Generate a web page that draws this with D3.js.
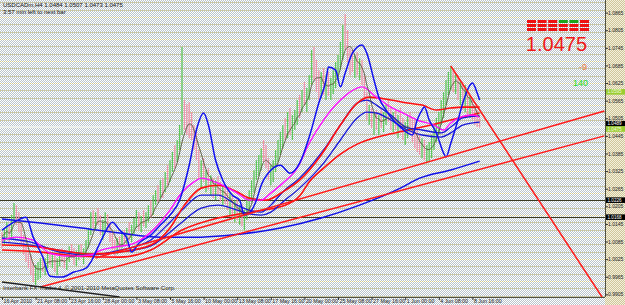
<!DOCTYPE html>
<html>
<head>
<meta charset="utf-8">
<script src="https://cdn.jsdelivr.net/npm/d3@7"></script>
<style>
body { margin: 0; background: #fff; }
svg { display: block; font-family: "Liberation Sans", Arial, sans-serif; }
</style>
</head>
<body>
<div id="chart"></div>
<script>
// H4 bars, prices in pips above 1.0000 (open = previous close)
const firstOpen = 110;
const highs = [
  117,131,151,141,175,216,209,185,151,107, 73,55,39,15,5,15,28,39,28,49,
  55,49,39,28,55,62,49,39,69,76, 62,55,73,76,62,90,131,185,192,185,
  199,175,158,185,178,151,117,90,97,103, 117,124,131,151,141,165,192,185,172,192,
  185,209,226,243,260,277,294,301,322,345, 362,390,414,431,482,748,567,553,560,526,
  482,458,397,362,369,328,335,311,301,294, 308,288,277,281,260,253,243,226,233,209,
  213,192,233,260,294,328,362,380,403,431, 414,369,345,362,397,431,458,482,506,526,
  540,516,533,567,584,601,629,608,652,738, 748,704,669,663,676,652,663,642,669,697,
  721,765,823,860,806,744,738,721,731,710, 704,652,594,550,540,526,533,516,540,526,
  550,567,540,526,533,516,540,506,492,516, 526,506,499,465,448,437,431,414,424,448,
  482,506,526,567,594,635,663,683,669,659, 652,635,629,618,601,584,574,550,533,507
];
const lows = [
  62,73,90,83,97,151,141,117,73,39, 15,-6,-30,-53,-63,-46,-40,-19,-30,-6,
  5,-6,-19,-30,1,15,-6,-12,15,28, 5,1,21,28,8,35,62,107,131,124,
  141,107,90,124,117,83,55,35,42,49, 62,69,76,90,83,110,131,124,117,137,
  131,151,165,175,209,219,233,233,253,277, 288,322,335,356,397,448,465,448,437,431,
  397,362,301,267,288,253,260,240,233,226, 243,219,209,213,192,175,165,151,158,141,
  137,124,158,192,219,253,294,308,328,356, 335,294,277,288,322,356,380,403,431,437,
  448,431,465,482,506,526,550,526,567,618, 635,594,567,574,584,567,581,567,588,608,
  635,669,704,738,697,652,663,642,652,635, 618,567,499,482,472,448,465,448,472,458,
  482,492,465,458,465,437,458,431,414,437, 448,424,403,390,380,369,362,352,356,369,
  397,424,448,482,506,550,584,601,594,588, 567,550,533,526,516,506,499,482,475,473
];
const closes = [
  103,117,137,97,165,199,158,131,90,55, 28,15,-12,-40,-12,5,15,-6,21,35,
  15,28,-6,15,42,28,8,28,55,49, 21,35,55,42,49,76,117,165,151,175,
  158,124,137,172,131,97,69,55,83,62, 103,90,117,103,131,151,172,137,158,144,
  172,192,178,226,240,233,281,260,301,288, 342,369,356,410,458,526,506,472,465,448,
  431,380,322,345,301,308,274,288,247,277, 260,233,260,226,209,233,185,199,172,192,
  151,178,219,240,274,308,345,362,390,369, 345,311,322,345,380,410,437,465,448,499,
  472,506,519,547,533,584,567,594,635,704, 663,618,594,642,608,629,601,622,649,669,
  697,738,806,772,721,710,687,704,669,690, 635,584,516,533,492,506,482,499,485,516,
  526,506,482,506,472,492,478,448,472,492, 465,437,424,410,397,414,380,397,403,431,
  465,485,506,550,581,618,642,652,618,635, 588,608,567,584,540,567,516,506,484,475
];

// indicator lines: [bar, pips]
const blueFast = [[0,124],[5,151],[10,168],[13,100],[17,32],[20,-33],[25,-36],[30,-19],[35,-6],[37,15],
  [40,66],[42,100],[46,151],[49,124],[52,97],[54,49],[57,79],[62,107],[66,141],[70,175],[74,226],
  [78,345],[81,465],[84,523],[86,482],[89,362],[92,294],[96,243],[99,226],[101,175],[103,182],
  [106,226],[108,277],[112,328],[116,345],[120,318],[124,352],[128,441],[132,557],[135,635],[136,680],
  [139,669],[141,612],[143,659],[146,727],[150,755],[152,727],[155,635],[157,577],[160,533],[163,499],
  [166,475],[169,455],[171,448],[173,499],[175,533],[176,543],[178,499],[181,455],[184,386],[185,373],
  [187,420],[190,499],[192,557],[195,618],[196,625],[198,591],[199,567]];
const magentaMa = [[0,90],[6,100],[13,90],[20,45],[28,35],[37,39],[41,55],[47,66],[55,79],[62,117],
  [66,151],[70,192],[75,253],[80,288],[83,301],[90,284],[98,250],[103,226],[108,226],[112,250],
  [117,284],[123,335],[128,420],[134,499],[141,567],[148,608],[150,612],[156,577],[162,543],[167,523],
  [173,499],[180,482],[184,465],[187,489],[191,509],[196,516],[199,509]];
const blueMid = [[0,97],[12,83],[24,49],[37,39],[49,55],[62,90],[70,151],[75,192],[83,243],[90,243],
  [98,209],[103,192],[108,185],[112,209],[117,254],[124,301],[134,397],[141,482],[148,557],[152,567],
  [156,550],[162,516],[169,472],[175,465],[183,455],[187,475],[192,506],[199,513]];
const blueSlow = [[0,83],[12,73],[24,55],[37,42],[49,49],[62,70],[70,117],[75,151],[83,199],[90,209],
  [98,192],[103,179],[108,175],[112,185],[117,220],[124,267],[134,352],[141,431],[148,506],[152,526],
  [156,523],[162,499],[169,465],[175,448],[183,441],[187,455],[192,482],[199,492]];
const redMid = [[0,73],[12,69],[24,55],[37,42],[49,49],[62,73],[70,131],[76,209],[83,267],[90,277],
  [98,254],[103,233],[110,226],[117,254],[124,294],[133,380],[141,482],[148,557],[153,577],[162,567],
  [169,557],[175,550],[181,533],[187,540],[192,543],[199,543]];
const redSlow = [[0,56],[16,49],[33,35],[49,32],[62,56],[75,124],[90,165],[103,185],[117,206],[124,240],
  [128,288],[134,335],[141,383],[148,417],[155,438],[160,448],[175,475],[187,499],[199,523]];
const blueLong = [[0,162],[16,148],[33,131],[49,114],[66,100],[83,100],[99,110],[116,131],[133,165],
  [149,209],[166,267],[174,301],[187,329],[199,359]];

// trend lines [bar, pips]
const redTrends = [[[16,-70],[251,445]], [[39,29],[251,530]], [[187,683],[250,-104]]];
const blackTrend = [[0,-53],[49,-104]];
const hLevels = [1.0226, 1.0168];

const yTicks = [1.0865,1.0805,1.0745,1.0685,1.0625,1.0565,1.0505,1.0445,1.0385,1.0325,1.0265,1.0205,1.0145,1.0085,1.0025,0.9965,0.9905];
const xLabels = ['16 Apr 2010','21 Apr 08:00','23 Apr 16:00','28 Apr 00:00','3 May 08:00','5 May 16:00','10 May 00:00',
  '13 May 08:00','17 May 16:00','20 May 00:00','25 May 08:00','27 May 16:00','1 Jun 00:00','4 Jun 08:00','8 Jun 16:00'];
const xLabelBars = [0,14,28,42,56,70,84,98,112,126,140,154,168,182,196];
const tags = [
  {v: 1.0595, bg: '#9acd32', fg: '#f4ffe0'},
  {v: 1.0489, bg: '#000000', fg: '#ffffff'},
  {v: 1.0475, bg: '#9acd32', fg: '#f4ffe0'},
  {v: 1.0226, bg: '#000000', fg: '#ffffff'},
  {v: 1.0168, bg: '#000000', fg: '#ffffff'}
];
const blockRows = [['r','r','r','g','g','r'], ['r','r','r','r','r','r'], ['r','r','r','r','r','r']];
const lastPrice = '1.0475';

let w = 625, h = 305;
let plotW = 605, plotH = 297;
let px = v => 1 + v / 10000;

let svg = d3.select('#chart').append('svg').attr('width', w).attr('height', h);

let defs = svg.append('defs');
let pat = defs.append('pattern').attr('id', 'dither').attr('width', 2).attr('height', 2).attr('patternUnits', 'userSpaceOnUse');
pat.append('rect').attr('width', 2).attr('height', 2).attr('fill', '#ffffff');
pat.append('rect').attr('x', 1).attr('width', 1).attr('height', 1).attr('fill', '#b9c4cb');
pat.append('rect').attr('y', 1).attr('width', 1).attr('height', 1).attr('fill', '#b9c4cb');
let pat2 = defs.append('pattern').attr('id', 'dither2').attr('width', 2).attr('height', 2).attr('patternUnits', 'userSpaceOnUse');
pat2.append('rect').attr('width', 2).attr('height', 2).attr('fill', '#f4f0dc');
pat2.append('rect').attr('x', 1).attr('width', 1).attr('height', 1).attr('fill', '#cfc69a');
pat2.append('rect').attr('y', 1).attr('width', 1).attr('height', 1).attr('fill', '#cfc69a');
defs.append('clipPath').attr('id', 'plot').append('rect').attr('width', plotW).attr('height', plotH);

svg.append('rect').attr('width', w).attr('height', h).attr('fill', 'url(#dither)');
svg.append('rect').attr('x', plotW).attr('width', w - plotW).attr('height', h).attr('fill', 'url(#dither2)');

let x = d3.scaleLinear().domain([0, 251]).range([2, 2 + 251 * 2.4]);
let y = d3.scaleLinear().domain([0.9896, 1.0908]).range([plotH, 0]);

let g = svg.append('g').attr('clip-path', 'url(#plot)');

// grid levels
g.selectAll('.lvl').data(d3.range(-100, 901, 25)).enter().append('line')
  .attr('x1', 0).attr('x2', plotW)
  .attr('y1', d => Math.round(y(px(d))) + 0.5).attr('y2', d => Math.round(y(px(d))) + 0.5)
  .attr('stroke', '#d6c985').attr('stroke-dasharray', '1,1');

g.selectAll('.hl').data(hLevels).enter().append('line')
  .attr('x1', 0).attr('x2', plotW)
  .attr('y1', d => Math.round(y(d)) + 0.5).attr('y2', d => Math.round(y(d)) + 0.5)
  .attr('stroke', '#3a3a20').attr('stroke-width', 1);

// bid line
g.append('line').attr('x1', 0).attr('x2', plotW)
  .attr('y1', y(1.0475)).attr('y2', y(1.0475))
  .attr('stroke', '#eef3f4').attr('stroke-width', 1.5);

// bars
g.selectAll('.bar').data(closes).enter().append('line')
  .attr('x1', (d, i) => x(i)).attr('x2', (d, i) => x(i))
  .attr('y1', (d, i) => y(px(highs[i]))).attr('y2', (d, i) => y(px(lows[i])))
  .attr('stroke', (d, i) => d >= (i ? closes[i - 1] : firstOpen) ? '#5cc85a' : '#f095ac')
  .attr('stroke-width', 1.3);

let line = d3.line().x(d => x(d[0])).y(d => y(px(d[1]))).curve(d3.curveMonotoneX);

// fast simple average of closes
let sma = closes.map((c, i) => [i, d3.mean(closes.slice(Math.max(0, i - 4), i + 1))]);

g.append('path').datum(blueLong).attr('d', line).attr('fill', 'none').attr('stroke', '#1010e8').attr('stroke-width', 1.5);
g.append('path').datum(redSlow).attr('d', line).attr('fill', 'none').attr('stroke', '#ff1010').attr('stroke-width', 1.6);
g.append('path').datum(blueSlow).attr('d', line).attr('fill', 'none').attr('stroke', '#1818d8').attr('stroke-width', 1.3);
g.append('path').datum(blueMid).attr('d', line).attr('fill', 'none').attr('stroke', '#1818d8').attr('stroke-width', 1.3);
g.append('path').datum(redMid).attr('d', line).attr('fill', 'none').attr('stroke', '#ff1010').attr('stroke-width', 1.6);
g.append('path').datum(magentaMa).attr('d', line).attr('fill', 'none').attr('stroke', '#ff10ff').attr('stroke-width', 1.4);
g.append('path').datum(sma).attr('d', line).attr('fill', 'none').attr('stroke', '#55553a').attr('stroke-width', 0.9);
g.append('path').datum(blueFast).attr('d', line).attr('fill', 'none').attr('stroke', '#1010f0').attr('stroke-width', 1.5);

g.selectAll('.tr').data(redTrends).enter().append('path')
  .attr('d', d3.line().x(d => x(d[0])).y(d => y(px(d[1]))))
  .attr('stroke', '#ff1a1a').attr('stroke-width', 1.5).attr('fill', 'none');
g.append('path').datum(blackTrend)
  .attr('d', d3.line().x(d => x(d[0])).y(d => y(px(d[1]))))
  .attr('stroke', '#202020').attr('stroke-width', 1.4).attr('fill', 'none');

// frame
svg.append('line').attr('x1', plotW + 0.5).attr('x2', plotW + 0.5).attr('y1', 0).attr('y2', plotH).attr('stroke', '#505040');
svg.append('line').attr('x1', 0).attr('x2', plotW).attr('y1', plotH + 0.5).attr('y2', plotH + 0.5).attr('stroke', '#505040');

// axes
let yAxis = d3.axisRight(y).tickValues(yTicks).tickFormat(d3.format('.4f')).tickSize(3);
let ya = svg.append('g').attr('transform', 'translate(' + plotW + ',0)').call(yAxis);
ya.select('.domain').remove();
ya.selectAll('text').attr('x', 3).style('font-size', '5px').attr('fill', '#222');
ya.selectAll('line').attr('stroke', '#333');

let xAxis = d3.axisBottom(x).tickValues(xLabelBars).tickFormat((d, i) => xLabels[i]).tickSize(3);
let xa = svg.append('g').attr('transform', 'translate(0,' + plotH + ')').call(xAxis);
xa.select('.domain').remove();
xa.selectAll('text').attr('text-anchor', 'start').attr('x', 1).attr('y', 2).style('font-size', '5.3px').attr('fill', '#222');
xa.selectAll('line').attr('stroke', '#333');

// price tags on the scale, nudged down a little when they collide
let tagH = 5.6, gap = 5.3;
let taken = yTicks.map(v => y(v));
let placed = tags.map(d => {
  let c = y(d.v);
  while (taken.some(t => Math.abs(t - c) < gap)) c += 0.1;
  taken.push(c);
  return Object.assign({c: c}, d);
});
let tg = svg.selectAll('.tag').data(placed).enter().append('g')
  .attr('transform', d => 'translate(' + (plotW + 1) + ',' + (d.c - tagH / 2) + ')');
tg.append('rect').attr('width', w - plotW - 1).attr('height', tagH).attr('fill', d => d.bg);
tg.append('text').attr('x', 1.5).attr('y', 4.4).text(d => d.v.toFixed(4))
  .attr('fill', d => d.fg).style('font-size', '4.6px');

// header
svg.append('text').attr('x', 3).attr('y', 7).text('USDCADm,H4  1.0484 1.0507 1.0473 1.0475')
  .style('font-size', '6px').attr('fill', '#111');
svg.append('text').attr('x', 3).attr('y', 14).text('3:57 min left to next bar')
  .style('font-size', '6px').attr('fill', '#111');
svg.append('text').attr('x', 3).attr('y', 290).text('Interbank FX Trader 4, \u00a9 2001-2010 MetaQuotes Software Corp.')
  .style('font-size', '6px').attr('fill', '#222');

// info panel
blockRows.forEach((row, r) => {
  svg.selectAll('.blk' + r).data(row).enter().append('rect')
    .attr('x', (d, i) => 527 + i * 10.6).attr('y', 20 + r * 4)
    .attr('width', 9).attr('height', 3)
    .attr('fill', d => d === 'g' ? '#1aa51a' : '#ee1111');
});
svg.append('text').attr('x', 587).attr('y', 51).attr('text-anchor', 'end').text(lastPrice)
  .style('font-size', '20px').attr('fill', '#f01818');
svg.append('text').attr('x', 587).attr('y', 70).attr('text-anchor', 'end').text('-9')
  .style('font-size', '9px').attr('fill', '#f08040');
svg.append('text').attr('x', 588).attr('y', 86).attr('text-anchor', 'end').text('140')
  .style('font-size', '9px').attr('fill', '#22dd22');
</script>
</body>
</html>
